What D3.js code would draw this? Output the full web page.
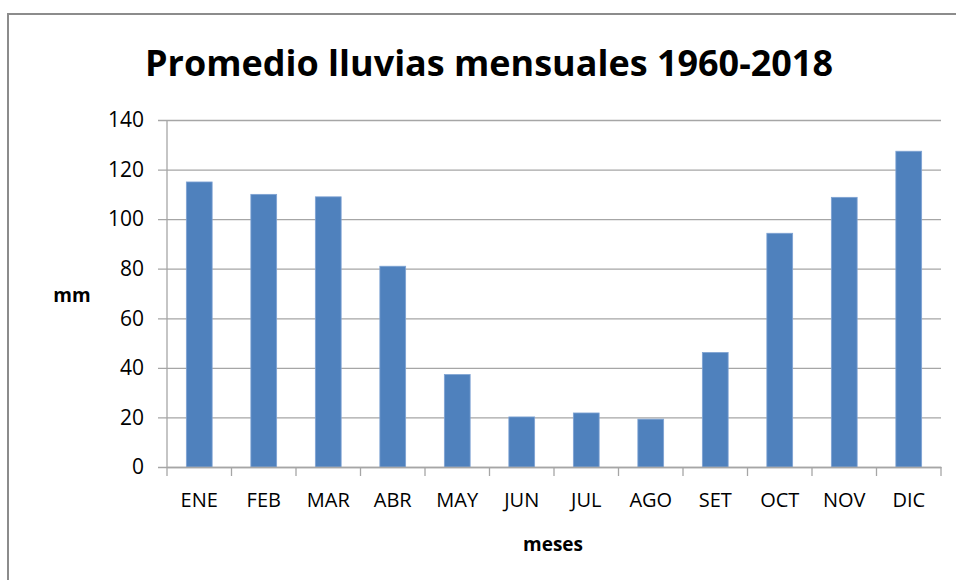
<!DOCTYPE html>
<html>
<head>
<meta charset="utf-8">
<script src="https://cdn.jsdelivr.net/npm/d3@7"></script>
<style>
  body { margin: 0; background: #fff; }
  text { font-family: "Open Sans", "Liberation Sans", sans-serif; fill: #000; }
</style>
</head>
<body>
<div id="chart"></div>
<script>
var months = ["ENE", "FEB", "MAR", "ABR", "MAY", "JUN", "JUL", "AGO", "SET", "OCT", "NOV", "DIC"];
var rainfall = [115, 110, 109, 81, 37.3, 20.2, 21.8, 19.3, 46.2, 94.3, 108.8, 127.4];
var yTicks = [0, 20, 40, 60, 80, 100, 120, 140];

var svgWidth = 956;
var svgHeight = 580;

var margin = { top: 120, right: 15, bottom: 113, left: 167 };
var chart_width = svgWidth - margin.left - margin.right;
var chart_height = svgHeight - margin.top - margin.bottom;

var svg = d3.select("#chart")
    .append("svg")
    .attr("width", svgWidth)
    .attr("height", svgHeight);

// outer frame
svg.append("rect")
    .attr("x", 8)
    .attr("y", 14)
    .attr("width", 960)
    .attr("height", 600)
    .attr("fill", "none")
    .attr("stroke", "#8c8c8c")
    .attr("stroke-width", 2);

var chartGroup = svg.append("g")
    .attr("transform", `translate(${margin.left}, ${margin.top})`);

var xScale = d3.scaleBand()
    .domain(months)
    .range([0, chart_width])
    .paddingInner(0.6)
    .paddingOuter(0.3);

var yScale = d3.scaleLinear()
    .domain([0, 140])
    .range([chart_height, 0]);

// gridlines + left ticks
var leftAxis = d3.axisLeft(yScale)
    .tickValues(yTicks)
    .tickSize(-chart_width)
    .tickPadding(23)
    .tickFormat(d3.format("d"));

var yAxisG = chartGroup.append("g").call(leftAxis);
yAxisG.select(".domain").remove();
yAxisG.selectAll(".tick line")
    .attr("x1", -9)
    .attr("stroke", "#a6a6a6")
    .attr("stroke-width", 1.3);
yAxisG.selectAll(".tick text")
    .style("font-size", "21px")
    .attr("fill", "#000");

// vertical axis line
chartGroup.append("line")
    .attr("x1", 0).attr("x2", 0)
    .attr("y1", 0).attr("y2", chart_height)
    .attr("stroke", "#a6a6a6")
    .attr("stroke-width", 1.3);

// bars
chartGroup.append("g")
    .selectAll("rect")
    .data(rainfall)
    .enter()
    .append("rect")
    .attr("x", (d, i) => xScale(months[i]))
    .attr("y", d => yScale(d))
    .attr("width", xScale.bandwidth())
    .attr("height", d => chart_height - yScale(d))
    .attr("fill", "#4f81bd")
    .attr("stroke", "#7fa3d3")
    .attr("stroke-width", 0.8);

// bottom axis
var bottomAxis = d3.axisBottom(xScale).tickSize(0).tickPadding(26);
var xAxisG = chartGroup.append("g")
    .attr("transform", `translate(0, ${chart_height})`)
    .call(bottomAxis);
xAxisG.select(".domain")
    .attr("stroke", "#a6a6a6")
    .attr("stroke-width", 1.3);
xAxisG.selectAll(".tick text")
    .style("font-size", "20px")
    .attr("fill", "#000");

// category boundary ticks
var bounds = d3.range(months.length + 1).map(i => i * chart_width / months.length);
chartGroup.append("g")
    .selectAll("line")
    .data(bounds)
    .enter()
    .append("line")
    .attr("x1", d => d).attr("x2", d => d)
    .attr("y1", chart_height).attr("y2", chart_height + 9)
    .attr("stroke", "#a6a6a6")
    .attr("stroke-width", 1.3);

// title
svg.append("text")
    .attr("x", 489)
    .attr("y", 76)
    .attr("text-anchor", "middle")
    .attr("textLength", 688)
    .attr("lengthAdjust", "spacingAndGlyphs")
    .style("font-size", "36px")
    .style("font-weight", "bold")
    .text("Promedio lluvias mensuales 1960-2018");

// axis titles
svg.append("text")
    .attr("x", 72)
    .attr("y", 302)
    .attr("text-anchor", "middle")
    .style("font-size", "19px")
    .style("font-weight", "bold")
    .text("mm");

svg.append("text")
    .attr("x", 553)
    .attr("y", 551)
    .attr("text-anchor", "middle")
    .style("font-size", "19px")
    .style("font-weight", "bold")
    .text("meses");
</script>
</body>
</html>
